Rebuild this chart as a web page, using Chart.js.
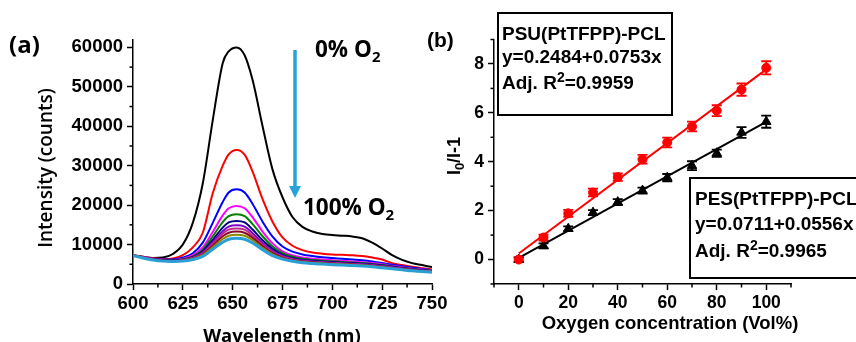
<!DOCTYPE html>
<html>
<head>
<meta charset="utf-8">
<script src="https://cdn.jsdelivr.net/npm/chart.js@4.4.1/dist/chart.umd.min.js"></script>
<style>
html, body { margin: 0; padding: 0; background: #fff; }
#wrap { position: relative; width: 856px; height: 342px; overflow: hidden; }
canvas { position: absolute; left: 0; top: 0; }
</style>
</head>
<body>
<div id="wrap">
  <canvas id="chartA" width="856" height="342"></canvas>
  <canvas id="chartB" width="856" height="342"></canvas>
</div>
<script>
// ---- panel (a) : emission spectra, one array per O2 level ----
var WAVELENGTH = [600,605,610,615,620,625,630,635,640,645,648,652,656,660,665,670,675,680,685,690,695,700,705,710,715,720,725,730,735,740,745,750];
var O2_0   = [7300,6900,6600,6700,7600,10000,15500,25500,41500,56000,59000,60000,58000,51700,40000,29000,22000,17000,14500,13300,12700,12400,12250,12050,11600,10500,9000,7300,6100,5300,4800,4300];
var O2_10  = [7300,6900,6500,6300,6500,7300,9300,13000,23000,30000,32900,34000,32800,28500,21500,15800,11800,9700,8600,8000,7700,7500,7400,7300,7100,6700,6200,5300,4800,4400,4000,3700];
var O2_20  = [7300,6800,6400,6200,6200,6700,7800,10500,15500,20800,23200,24000,23200,20300,15800,12000,9500,8200,7500,7100,6800,6600,6400,6200,6000,5700,5300,4900,4500,4100,3800,3550];
var O2_30  = [7300,6800,6350,6100,6050,6400,7300,9300,13200,17400,19200,19800,19200,16900,13300,10300,8300,7300,6700,6400,6200,6000,5850,5700,5500,5300,5000,4600,4250,3900,3650,3450];
var O2_40  = [7300,6750,6300,6050,6000,6250,7000,8700,12100,15700,17200,17700,17200,15200,12100,9500,7800,6900,6400,6100,5900,5750,5600,5450,5300,5100,4800,4450,4100,3800,3550,3350];
var O2_50  = [7300,6700,6250,6000,5950,6150,6800,8300,11200,14300,15600,16000,15600,13800,11100,8900,7400,6600,6150,5900,5700,5550,5400,5300,5150,4950,4700,4350,4050,3750,3500,3300];
var O2_60  = [7300,6700,6250,5950,5900,6100,6700,8000,10600,13400,14550,14900,14550,12900,10400,8400,7100,6350,5950,5700,5550,5400,5250,5150,5000,4800,4550,4250,3950,3650,3400,3250];
var O2_70  = [7300,6700,6200,5900,5850,6050,6600,7800,10200,12800,13800,14100,13800,12300,10000,8100,6900,6200,5800,5600,5450,5300,5150,5050,4900,4700,4450,4150,3850,3600,3350,3200];
var O2_80  = [7300,6650,6200,5900,5800,5950,6450,7550,9700,12100,13000,13300,13000,11700,9600,7800,6700,6050,5700,5500,5350,5200,5050,4950,4800,4600,4350,4050,3750,3500,3300,3150];
var O2_90  = [7300,6650,6150,5850,5750,5900,6350,7300,9300,11400,12250,12500,12250,11100,9200,7500,6500,5900,5550,5350,5200,5050,4950,4850,4700,4500,4250,3950,3700,3450,3250,3100];
var O2_100 = [7200,6600,6100,5800,5700,5800,6200,7000,8800,10600,11350,11600,11350,10400,8700,7200,6300,5750,5400,5200,5050,4900,4800,4700,4550,4350,4100,3850,3600,3350,3150,3000];
var SPECTRA = [O2_0, O2_10, O2_20, O2_30, O2_40, O2_50, O2_60, O2_70, O2_80, O2_90, O2_100];
var SPEC_COLORS = ['#000000','#ff0000','#0000ff','#ff00ff','#008000','#000080','#7a00c8','#c0288c','#8b0a2a','#8a8a00','#2a9fd6'];

var A_X_TICKS = [600,625,650,675,700,725,750];
var A_X_MINOR = [612.5,637.5,662.5,687.5,712.5,737.5];
var A_Y_TICKS = [0,10000,20000,30000,40000,50000,60000];
var A_Y_MINOR = [5000,15000,25000,35000,45000,55000];

// ---- panel (b) : Stern-Volmer plot ----
var O2_CONC = [0,10,20,30,40,50,60,70,80,90,100];
var PSU_Y   = [0,0.90,1.89,2.74,3.37,4.10,4.79,5.44,6.09,6.95,7.84];
var PSU_ERR = [0.10,0.12,0.14,0.16,0.15,0.18,0.20,0.20,0.22,0.25,0.27];
var PES_Y   = [0,0.56,1.26,1.92,2.35,2.82,3.35,3.84,4.35,5.20,5.64];
var PES_ERR = [0.08,0.10,0.10,0.10,0.12,0.12,0.15,0.18,0.15,0.22,0.25];
var FIT_X     = [0,100];
var PSU_FIT_Y = [0.25,7.78];
var PES_FIT_Y = [0.07,5.63];

var B_X_TICKS = [0,20,40,60,80,100];
var B_X_MINOR = [-10,10,30,50,70,90,110];
var B_Y_TICKS = [0,2,4,6,8];
var B_Y_MINOR = [-1,1,3,5,7,9];

var ARIAL = "'Liberation Sans', Arial, sans-serif";
var SANS = "'Open Sans', 'Noto Sans', sans-serif";

function toPoints(xs, ys) {
  return xs.map(function (x, i) { return { x: x, y: ys[i] }; });
}

// draw a run of text parts [text, size, dy] starting at x (or centred)
function richText(ctx, family, x, y, parts, align, weight) {
  var w = weight || 'bold';
  var total = 0;
  parts.forEach(function (p) {
    ctx.font = w + ' ' + p[1] + 'px ' + family;
    total += ctx.measureText(p[0]).width;
  });
  var cx = align === 'center' ? x - total / 2 : x;
  ctx.textBaseline = 'middle';
  ctx.textAlign = 'left';
  parts.forEach(function (p) {
    ctx.font = w + ' ' + p[1] + 'px ' + family;
    ctx.fillText(p[0], cx, y + (p[2] || 0));
    cx += ctx.measureText(p[0]).width;
  });
}

function rotatedText(ctx, family, cx, cy, parts, weight) {
  ctx.save();
  ctx.translate(cx, cy);
  ctx.rotate(-Math.PI / 2);
  richText(ctx, family, 0, 0, parts, 'center', weight);
  ctx.restore();
}

// shared axis options: fixed axis size so the plot box lands where the figure has it
function axis(min, max, ticks, fontSize, fixed, isY) {
  return {
    type: 'linear', min: min, max: max,
    afterBuildTicks: function (s) { s.ticks = ticks.map(function (v) { return { value: v }; }); },
    afterFit: function (s) {
      if (isY) s.width = fixed; else s.height = fixed;
      s.paddingLeft = 0; s.paddingRight = 0; s.paddingTop = 0; s.paddingBottom = 0;
    },
    border: { display: true, color: '#000', width: 1.5 },
    grid: { drawOnChartArea: false, drawTicks: true, tickLength: 6, tickWidth: 1.5, tickColor: '#000' },
    ticks: {
      autoSkip: false, maxRotation: 0, color: '#000', padding: isY ? 4 : 3,
      font: { family: ARIAL, size: fontSize, weight: 'bold' },
      callback: function (v) { return String(v); }
    }
  };
}

// short minor ticks drawn from the chart's own scales
function drawMinor(chart, xs, ys) {
  var ctx = chart.ctx, sx = chart.scales.x, sy = chart.scales.y, a = chart.chartArea;
  ctx.save();
  ctx.strokeStyle = '#000';
  ctx.lineWidth = 1.5;
  xs.forEach(function (v) {
    var px = sx.getPixelForValue(v);
    ctx.beginPath(); ctx.moveTo(px, a.bottom); ctx.lineTo(px, a.bottom + 3.5); ctx.stroke();
  });
  ys.forEach(function (v) {
    var py = sy.getPixelForValue(v);
    ctx.beginPath(); ctx.moveTo(a.left, py); ctx.lineTo(a.left - 3.5, py); ctx.stroke();
  });
  ctx.restore();
}

// ---------------- chart (a) ----------------
var specDatasets = SPECTRA.map(function (vals, i) {
  return {
    data: toPoints(WAVELENGTH, vals),
    borderColor: SPEC_COLORS[i],
    borderWidth: i === SPECTRA.length - 1 ? 3 : 2,
    pointRadius: 0,
    cubicInterpolationMode: 'monotone',
    fill: false,
    order: SPECTRA.length - 1 - i
  };
});

var decorA = {
  id: 'decorA',
  afterDraw: function (chart) {
    var ctx = chart.ctx;
    drawMinor(chart, A_X_MINOR, A_Y_MINOR);
    ctx.save();
    ctx.fillStyle = '#000';
    richText(ctx, SANS, 9, 46, [['(a)', 24]]);
    rotatedText(ctx, SANS, 47, 168, [['Intensity (counts)', 19]], '600');
    richText(ctx, SANS, 282, 337, [['Wavelength (nm)', 18.5]], 'center');
    richText(ctx, SANS, 315, 51, [['0% O', 22.5], ['2', 15, 7]]);
    richText(ctx, SANS, 303, 209, [['100% O', 22.5], ['2', 15, 7]]);
    // blue arrow
    ctx.strokeStyle = '#29a3dc';
    ctx.fillStyle = '#29a3dc';
    ctx.lineWidth = 3.5;
    ctx.beginPath(); ctx.moveTo(295, 50); ctx.lineTo(295, 188); ctx.stroke();
    ctx.beginPath(); ctx.moveTo(289, 186); ctx.lineTo(301, 186); ctx.lineTo(295, 198); ctx.closePath(); ctx.fill();
    ctx.restore();
  }
};

new Chart(document.getElementById('chartA'), {
  type: 'line',
  data: { datasets: specDatasets },
  options: {
    responsive: false, animation: false, devicePixelRatio: 1, events: [],
    layout: { padding: { left: 0, top: 39.5, right: 856 - 432, bottom: 0 } },
    plugins: { legend: { display: false }, tooltip: { enabled: false } },
    scales: {
      x: axis(600, 750, A_X_TICKS, 18.5, 58, false),
      y: axis(0, 62000, A_Y_TICKS, 18.5, 133, true)
    }
  },
  plugins: [decorA]
});

// ---------------- chart (b) ----------------
var decorB = {
  id: 'decorB',
  beforeDatasetsDraw: function (chart) {
    var ctx = chart.ctx, sx = chart.scales.x, sy = chart.scales.y;
    var sets = [[PSU_Y, PSU_ERR, '#ff0000'], [PES_Y, PES_ERR, '#000000']];
    ctx.save();
    ctx.lineWidth = 1.8;
    sets.forEach(function (s) {
      ctx.strokeStyle = s[2];
      O2_CONC.forEach(function (x, i) {
        var px = sx.getPixelForValue(x);
        var top = sy.getPixelForValue(s[0][i] + s[1][i]);
        var bot = sy.getPixelForValue(s[0][i] - s[1][i]);
        ctx.beginPath();
        ctx.moveTo(px, top); ctx.lineTo(px, bot);
        ctx.moveTo(px - 5, top); ctx.lineTo(px + 5, top);
        ctx.moveTo(px - 5, bot); ctx.lineTo(px + 5, bot);
        ctx.stroke();
      });
    });
    ctx.restore();
  },
  afterDraw: function (chart) {
    var ctx = chart.ctx;
    drawMinor(chart, B_X_MINOR, B_Y_MINOR);
    ctx.save();
    ctx.fillStyle = '#000';
    richText(ctx, ARIAL, 427, 41, [['(b)', 21]]);
    rotatedText(ctx, ARIAL, 455, 156, [['I', 18], ['0', 13, 5], ['/I-1', 18]]);
    richText(ctx, ARIAL, 670, 324, [['Oxygen concentration (Vol%)', 18.5]], 'center');
    // equation boxes
    ctx.strokeStyle = '#000';
    ctx.lineWidth = 2;
    ctx.fillStyle = '#fff';
    ctx.fillRect(498, 13, 174, 102); ctx.strokeRect(498, 13, 174, 102);
    ctx.fillRect(690, 178, 180, 100); ctx.strokeRect(690, 178, 180, 100);
    ctx.fillStyle = '#000';
    richText(ctx, ARIAL, 502, 35, [['PSU(PtTFPP)-PCL', 19]]);
    richText(ctx, ARIAL, 502, 58, [['y=0.2484+0.0753x', 19]]);
    richText(ctx, ARIAL, 502, 84, [['Adj. R', 19], ['2', 14, -6], ['=0.9959', 19]]);
    richText(ctx, ARIAL, 695, 200, [['PES(PtTFPP)-PCL', 19]]);
    richText(ctx, ARIAL, 695, 225, [['y=0.0711+0.0556x', 19]]);
    richText(ctx, ARIAL, 695, 252, [['Adj. R', 19], ['2', 14, -6], ['=0.9965', 19]]);
    ctx.restore();
  }
};

new Chart(document.getElementById('chartB'), {
  type: 'scatter',
  data: {
    datasets: [
      { data: toPoints(O2_CONC, PSU_Y), pointStyle: 'circle', pointRadius: 4.5,
        backgroundColor: '#ff0000', borderColor: '#ff0000', showLine: false, order: 0 },
      { data: toPoints(O2_CONC, PES_Y), pointStyle: 'triangle', pointRadius: 5.5,
        backgroundColor: '#000000', borderColor: '#000000', showLine: false, order: 0 },
      { data: toPoints(FIT_X, PSU_FIT_Y), showLine: true, pointRadius: 0,
        borderColor: '#ff0000', borderWidth: 2, order: 1 },
      { data: toPoints(FIT_X, PES_FIT_Y), showLine: true, pointRadius: 0,
        borderColor: '#000000', borderWidth: 2, order: 1 }
    ]
  },
  options: {
    responsive: false, animation: false, devicePixelRatio: 1, events: [],
    layout: { padding: { left: 0, top: 39.5, right: 856 - 791, bottom: 0 } },
    plugins: { legend: { display: false }, tooltip: { enabled: false } },
    scales: {
      x: axis(-10, 110, B_X_TICKS, 17.5, 58, false),
      y: axis(-1, 9, B_Y_TICKS, 17.5, 494, true)
    }
  },
  plugins: [decorB]
});
</script>
</body>
</html>
